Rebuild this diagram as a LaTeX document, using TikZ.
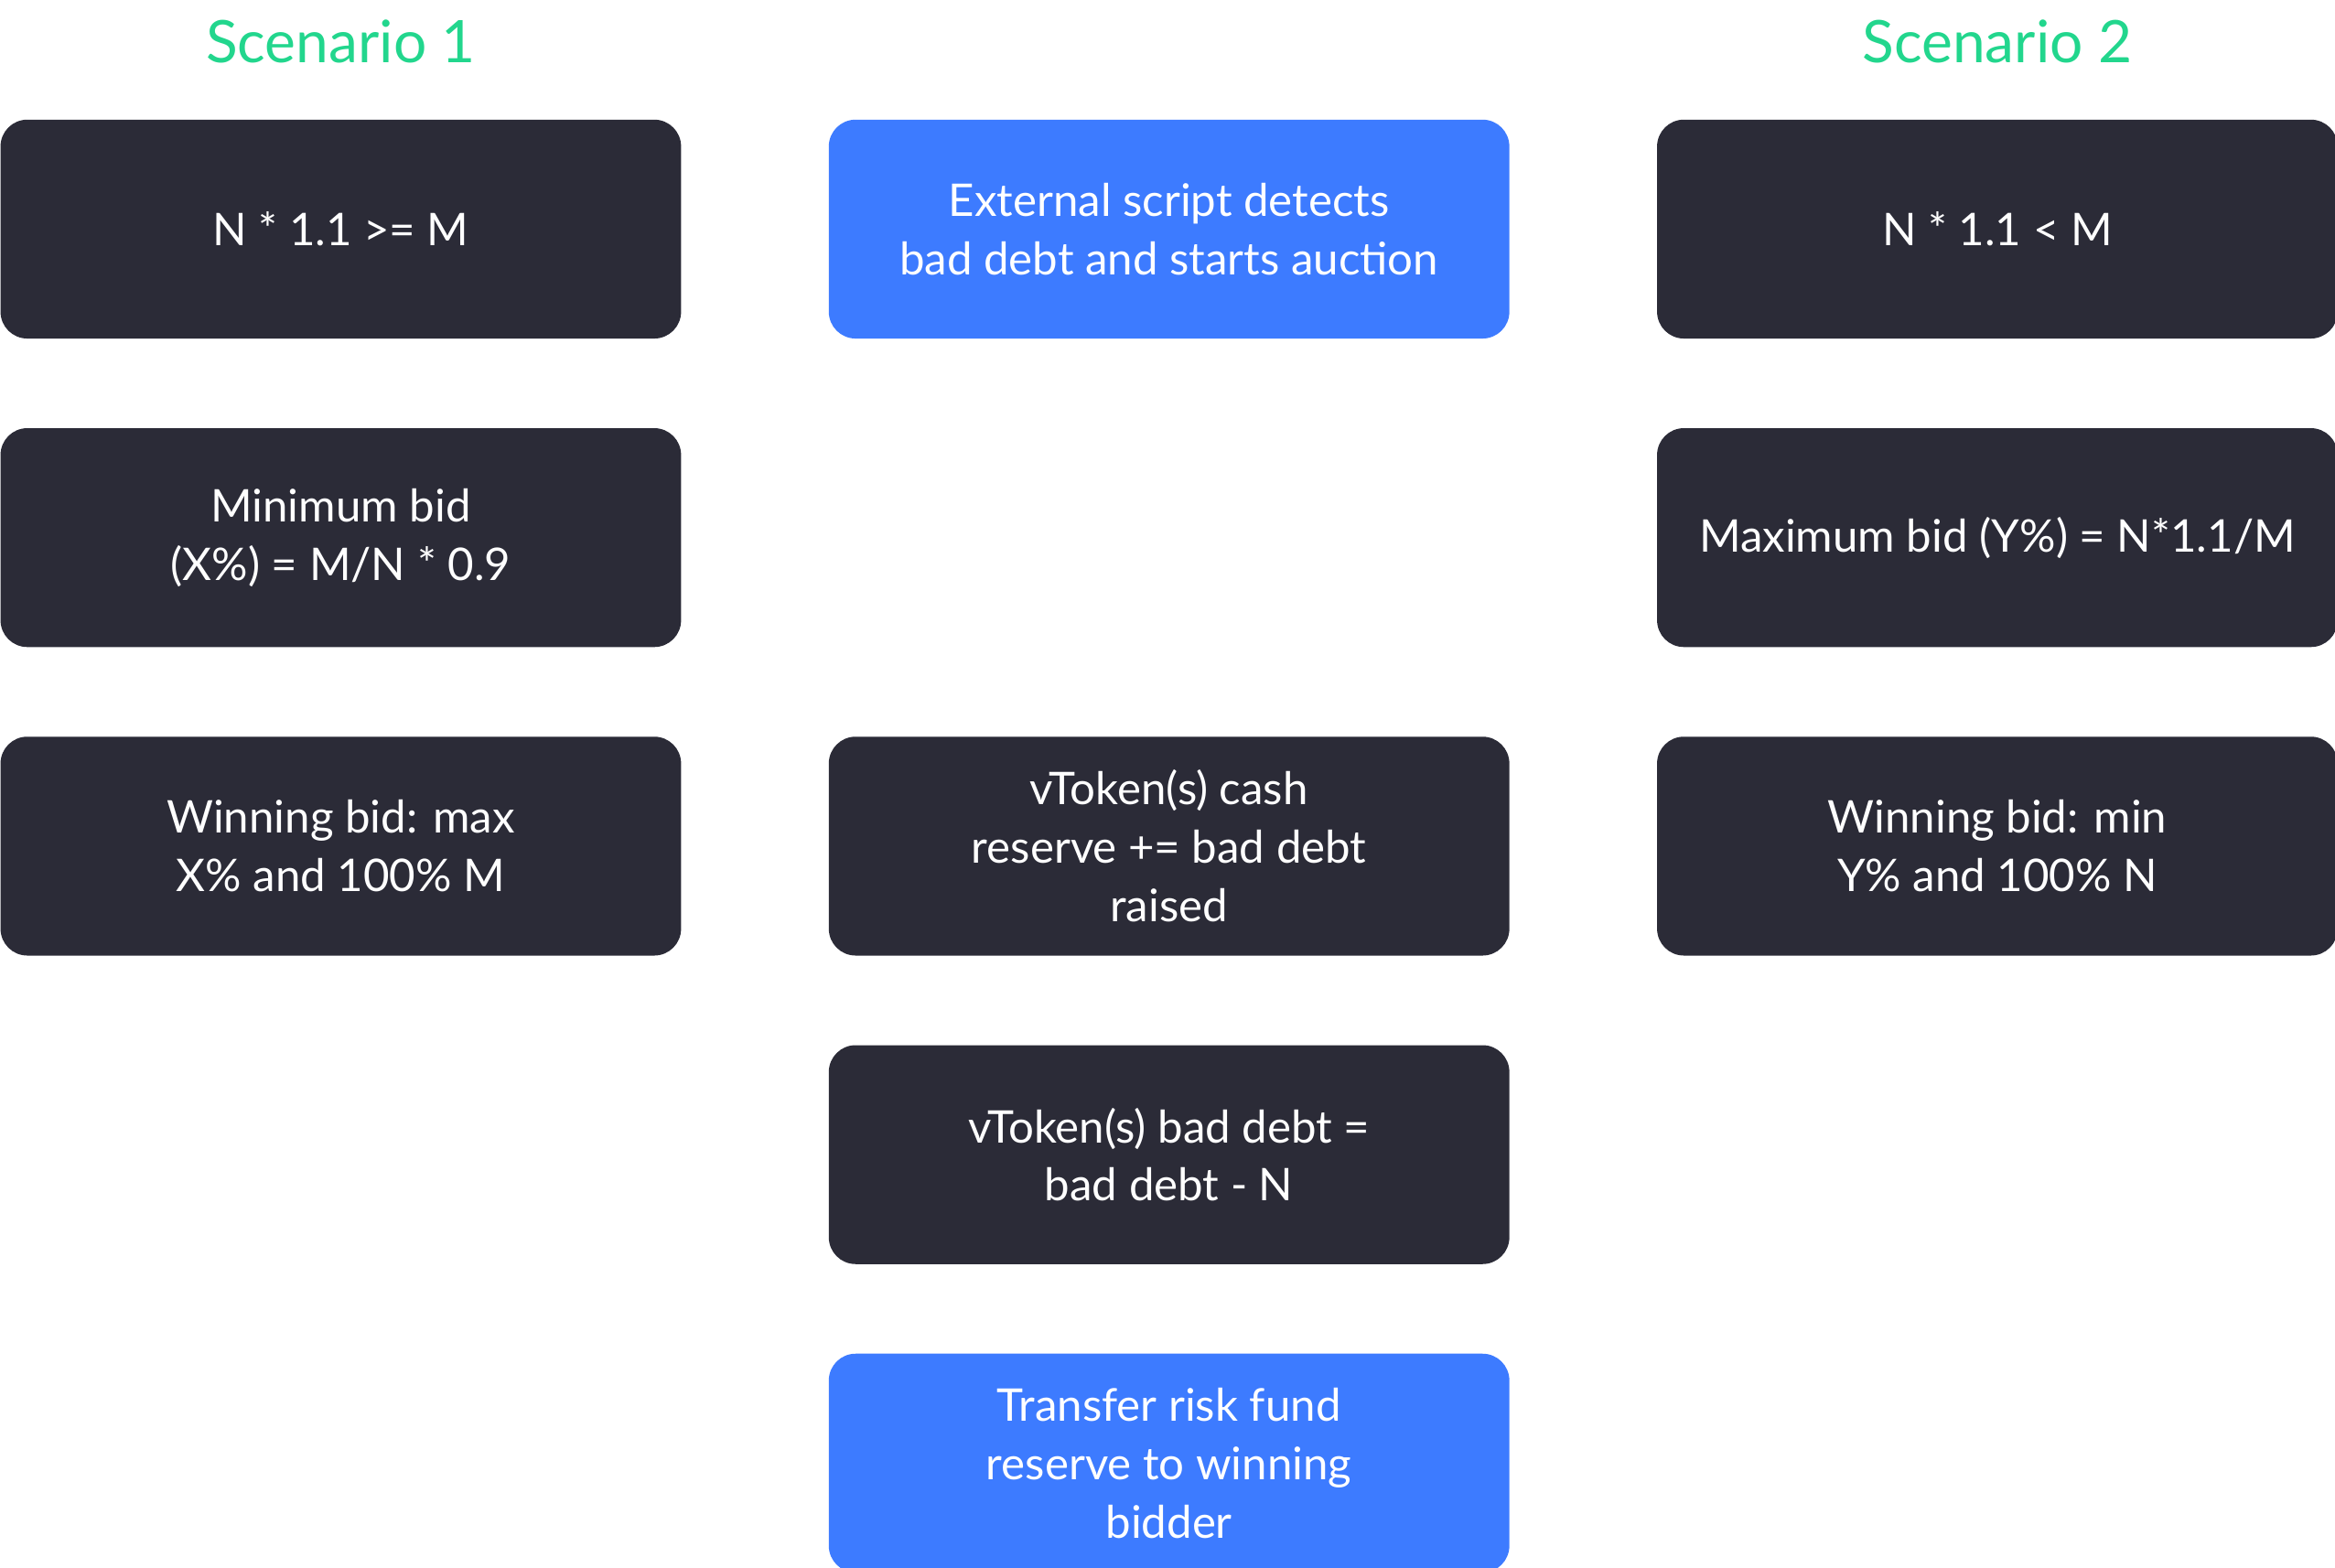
\documentclass[tikz,border=0pt]{standalone}
\usepackage{fontspec}
\setmainfont{Lato}
\usepackage{xcolor}
\usepackage{tikz}
\usetikzlibrary{positioning}

\definecolor{boxdark}{HTML}{2B2B37}
\definecolor{boxblue}{HTML}{3D7BFF}
\definecolor{titlegreen}{HTML}{22D68D}

\begin{document}
\begin{tikzpicture}[node distance=1.19cm and 1.97cm,
  card/.style={fill=boxdark, text=white, rounded corners=0.36cm, align=center, minimum width=9.14cm, minimum height=2.94cm, inner sep=0pt, font=\fontsize{17.2}{22.3}\selectfont},
  action/.style={card, fill=boxblue},
  heading/.style={text=titlegreen, anchor=base, inner sep=0pt, font=\fontsize{22.4}{26}\selectfont}]
\useasboundingbox (0,0) rectangle (31.36,-21.06);
% scenario 1
\node[card, anchor=north west] (cond1) at (0,-1.6) {N * 1.1 >= M};
\node[card, below=of cond1] (bid1) {Minimum bid\\(X\%) = M/N * 0.9};
\node[card, below=of bid1] (win1) {Winning bid: max\\X\% and 100\% M};
% auction steps
\node[action, right=of cond1] (start) {External script detects\\bad debt and starts auction};
\node[card, right=of win1] (cash) {vToken(s) cash\\reserve += bad debt\\raised};
\node[card, below=of cash] (debt) {vToken(s) bad debt =\\bad debt - N};
\node[action, below=of debt] (transfer) {Transfer risk fund\\reserve to winning\\bidder};
% scenario 2
\node[card, right=of start] (cond2) {N * 1.1 < M};
\node[card, below=of cond2] (bid2) {Maximum bid (Y\%) = N*1.1/M};
\node[card, below=of bid2] (win2) {Winning bid: min\\Y\% and 100\% N};
% titles
\node[heading] (title1) at ([yshift=0.76cm]cond1.north) {Scenario 1};
\node[heading] (title2) at ([yshift=0.76cm]cond2.north) {Scenario 2};
\end{tikzpicture}
\end{document}
